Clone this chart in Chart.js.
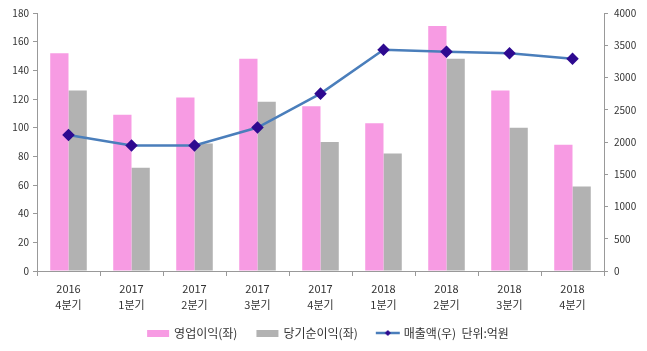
<!DOCTYPE html>
<html>
<head>
<meta charset="utf-8">
<script src="https://cdn.jsdelivr.net/npm/chart.js@4"></script>
<style>
  html, body { margin: 0; padding: 0; background: #fff; }
  #wrap { width: 647px; height: 351px; }
</style>
</head>
<body>
<div id="wrap"><canvas id="chart" width="647" height="351"></canvas></div>
<script>
var years = ['2016', '2017', '2017', '2017', '2017', '2018', '2018', '2018', '2018'];
var quarters = ['4분기', '1분기', '2분기', '3분기', '4분기', '1분기', '2분기', '3분기', '4분기'];
var operatingProfit = [152, 109, 121, 148, 115, 103, 171, 126, 88];   // 영업이익(좌)
var netIncome = [126, 72, 89, 118, 90, 82, 148, 100, 59];              // 당기순이익(좌)
var revenue = [2110, 1945, 1945, 2225, 2750, 3430, 3400, 3375, 3290];  // 매출액(우)

var labels = years.map(function (y, i) { return [y, quarters[i]]; });
var font = "'Noto Sans CJK KR', 'DejaVu Sans', sans-serif";

// legend swatches, with a transparent left margin so the items sit further apart
function swatch(w, h, draw) {
    var c = document.createElement('canvas');
    c.width = w; c.height = h;
    draw(c.getContext('2d'));
    return c;
}
var pinkBox = swatch(36, 7, function (g) { g.fillStyle = '#f79be3'; g.fillRect(12, 0, 22, 7); });
var grayBox = swatch(36, 7, function (g) { g.fillStyle = '#b2b2b2'; g.fillRect(12, 0, 22, 7); });
var lineMark = swatch(36, 10, function (g) {
    g.strokeStyle = '#4a7ebb'; g.lineWidth = 2.5;
    g.beginPath(); g.moveTo(11, 5); g.lineTo(35, 5); g.stroke();
    g.fillStyle = '#2e0a90';
    g.beginPath(); g.moveTo(23, 2); g.lineTo(26, 5); g.lineTo(23, 8); g.lineTo(20, 5); g.closePath(); g.fill();
});

var ctx = document.getElementById('chart').getContext('2d');
var chart = new Chart(ctx, {
    data: {
        labels: labels,
        datasets: [{
            type: 'line',
            label: '매출액(우)  단위:억원',
            data: revenue,
            yAxisID: 'y1',
            borderColor: '#4a7ebb',
            borderWidth: 2.5,
            pointStyle: 'rectRot',
            pointRadius: 4.5,
            pointBackgroundColor: '#2e0a90',
            pointBorderColor: '#2e0a90',
            tension: 0,
            order: 0
        }, {
            type: 'bar',
            label: '영업이익(좌)',
            data: operatingProfit,
            yAxisID: 'y',
            backgroundColor: '#f79be3',
            barPercentage: 1,
            categoryPercentage: 0.58,
            order: 1
        }, {
            type: 'bar',
            label: '당기순이익(좌)',
            data: netIncome,
            yAxisID: 'y',
            backgroundColor: '#b2b2b2',
            barPercentage: 1,
            categoryPercentage: 0.58,
            order: 1
        }]
    },
    options: {
        responsive: false,
        animation: false,
        layout: { padding: { top: 13, bottom: 2 } },
        plugins: {
            tooltip: { enabled: false },
            legend: {
                position: 'bottom',
                labels: {
                    font: { family: font, size: 12 },
                    color: '#333',
                    usePointStyle: true,
                    pointStyleWidth: 30,
                    boxHeight: 8,
                    padding: 10,
                    generateLabels: function (c) {
                        var marks = [pinkBox, grayBox, lineMark];
                        var order = [1, 2, 0];
                        return order.map(function (di, k) {
                            return {
                                text: c.data.datasets[di].label,
                                pointStyle: marks[k],
                                fontColor: '#333',
                                datasetIndex: di,
                                lineWidth: 0
                            };
                        });
                    }
                }
            }
        },
        scales: {
            x: {
                offset: true,
                grid: { display: true, offset: true, drawOnChartArea: false, tickLength: 5, color: '#999' },
                border: { color: '#999' },
                ticks: { font: { family: font, size: 11, lineHeight: 1.45 }, color: '#333', padding: 5 },
                afterFit: function (s) { s.height = 46; }
            },
            y: {
                position: 'left',
                min: 0, max: 180,
                ticks: { stepSize: 20, font: { family: font, size: 10 }, color: '#333', padding: 4 },
                grid: { drawOnChartArea: false, tickLength: 4, color: '#999' },
                border: { color: '#999' },
                afterFit: function (s) { s.width = 37; }
            },
            y1: {
                position: 'right',
                min: 0, max: 4000,
                ticks: {
                    stepSize: 500, font: { family: font, size: 10 }, color: '#333', padding: 6,
                    callback: function (v) { return String(v); }
                },
                grid: { drawOnChartArea: false, tickLength: 4, color: '#999' },
                border: { color: '#999' },
                afterFit: function (s) { s.width = 43; }
            }
        }
    }
});
</script>
</body>
</html>
